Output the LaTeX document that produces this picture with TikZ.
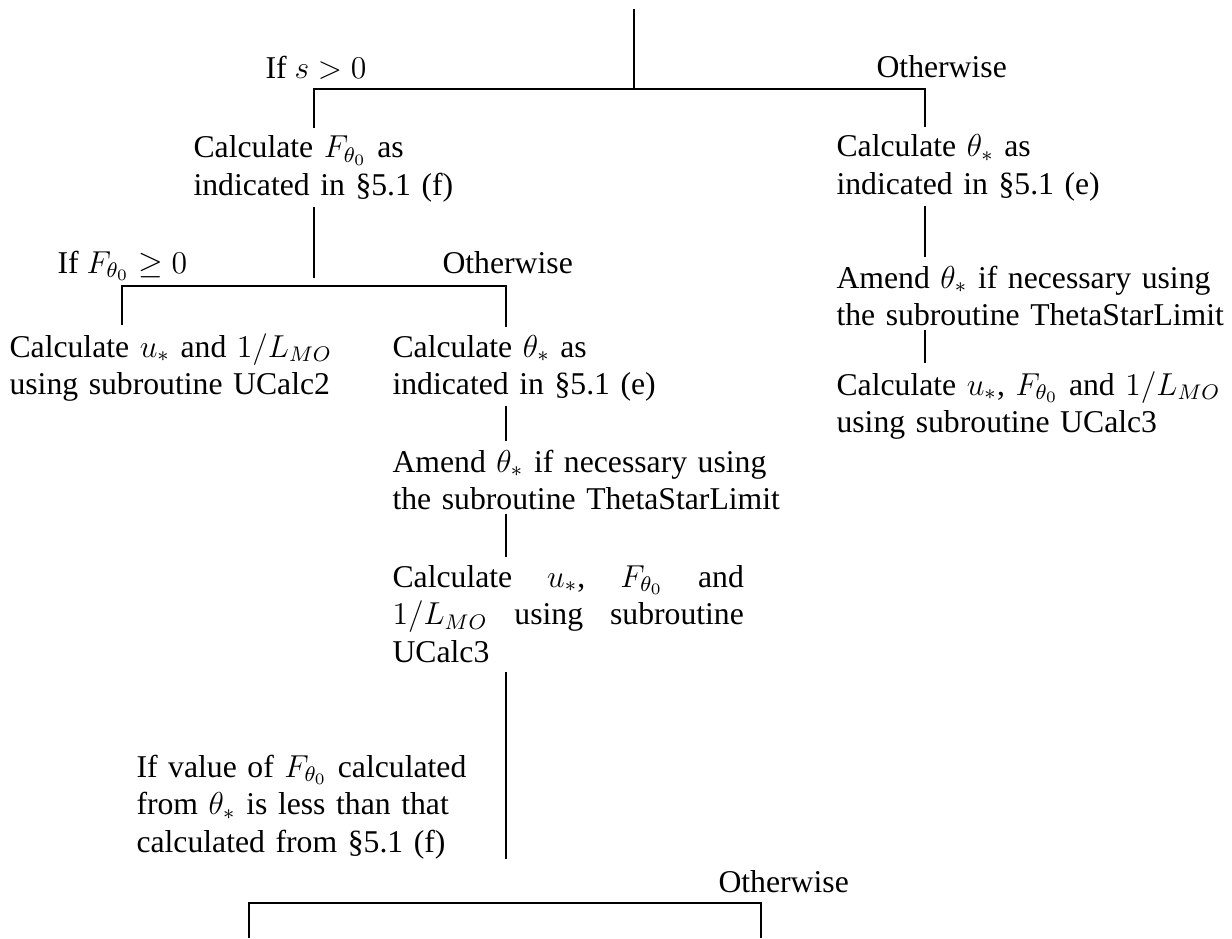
\documentclass[tikz,border=0pt]{standalone}
\usepackage{fontspec}
\setmainfont{Liberation Serif}
\usetikzlibrary{calc}

\tikzset{
	txt/.style={anchor=base west, inner sep=0pt, align=left, font=\fontsize{12pt}{14.2pt}\selectfont},
	blk/.style={txt, text width=150pt},
	wire/.style={line width=1pt},
	link/.style={wire, shorten <=1.5pt, shorten >=3pt},
}

\begin{document}
\begin{tikzpicture}[x=0.3785pt, y=-0.3785pt]
		%%%%% START %%%%%
		\useasboundingbox (0,0) rectangle (1232,938);
		
		% branch points
		\coordinate (top) at (634,9);
		\coordinate (s0) at (634,89);
		\coordinate (sL) at (314,89);
		\coordinate (sR) at (925,89);
		\coordinate (f0) at (314,286);
		\coordinate (fL) at (122,286);
		\coordinate (fR) at (506,286);
		\coordinate (b0) at (506,903);
		\coordinate (bL) at (249,938);
		\coordinate (bR) at (761,938);
		
		% conditions
		\node[txt] (ifs) at (265,79) {If $s>0$};
		\node[txt] (elseA) at (876,77) {Otherwise};
		\node[txt] (ifF) at (57,273) {If $F_{\theta_0}\geq 0$};
		\node[txt] (elseB) at (442,273) {Otherwise};
		\node[blk] (ifval) at (136,777) {If value of $F_{\theta_0}$ calculated\\from $\theta_*$ is less than that\\calculated from \S5.1 (f)};
		\node[txt] (elseC) at (718,892) {Otherwise};
		
		% steps
		\node[blk] (calcF) at (193,158) {Calculate $F_{\theta_0}$ as\\indicated in \S5.1 (f)};
		\node[blk] (calcR) at (836,157) {Calculate $\theta_*$ as\\indicated in \S5.1 (e)};
		\node[blk] (amendR) at (836,288) {Amend $\theta_*$ if necessary using\\the subroutine ThetaStarLimit};
		\node[blk] (ucalcR) at (836,395) {Calculate $u_*$, $F_{\theta_0}$ and $1/L_{MO}$\\using subroutine UCalc3};
		\node[blk] (ucalc2) at (9,357) {Calculate $u_*$ and $1/L_{MO}$\\using subroutine UCalc2};
		\node[blk] (calcM) at (392,357) {Calculate $\theta_*$ as\\indicated in \S5.1 (e)};
		\node[blk] (amendM) at (392,472) {Amend $\theta_*$ if necessary using\\the subroutine ThetaStarLimit};
		\node[txt, text width=133pt] (ucalcM) at (392,587) {Calculate\hfill$u_*$,\hfill$F_{\theta_0}$\hfill and\\$1/L_{MO}$\hfill using\hfill subroutine\\UCalc3};
		
		% connectors
		\draw[wire] (top) -- (s0);
		\draw[wire, shorten <=3pt, shorten >=3pt] (calcF.north -| sL) |- (s0) -| (calcR.north -| sR);
		\draw[link] (calcF.south -| f0) -- (f0);
		\draw[wire, shorten <=3pt, shorten >=3pt] (ucalc2.north -| fL) |- (f0) -| (calcM.north -| fR);
		
		\draw[link] (calcR.south -| sR) -- (amendR.north -| sR);
		\draw[link] (amendR.south -| sR) -- (ucalcR.north -| sR);
		
		\draw[link] (calcM.south -| fR) -- (amendM.north -| fR);
		\draw[link] (amendM.south -| fR) -- (ucalcM.north -| fR);
		\draw[wire, shorten <=3.5pt] (ucalcM.south -| fR) -- (ifval.south -| fR);
		
		\draw[wire] (bL) |- (b0) -| (bR);
		%%%%% END %%%%%
\end{tikzpicture}
\end{document}
